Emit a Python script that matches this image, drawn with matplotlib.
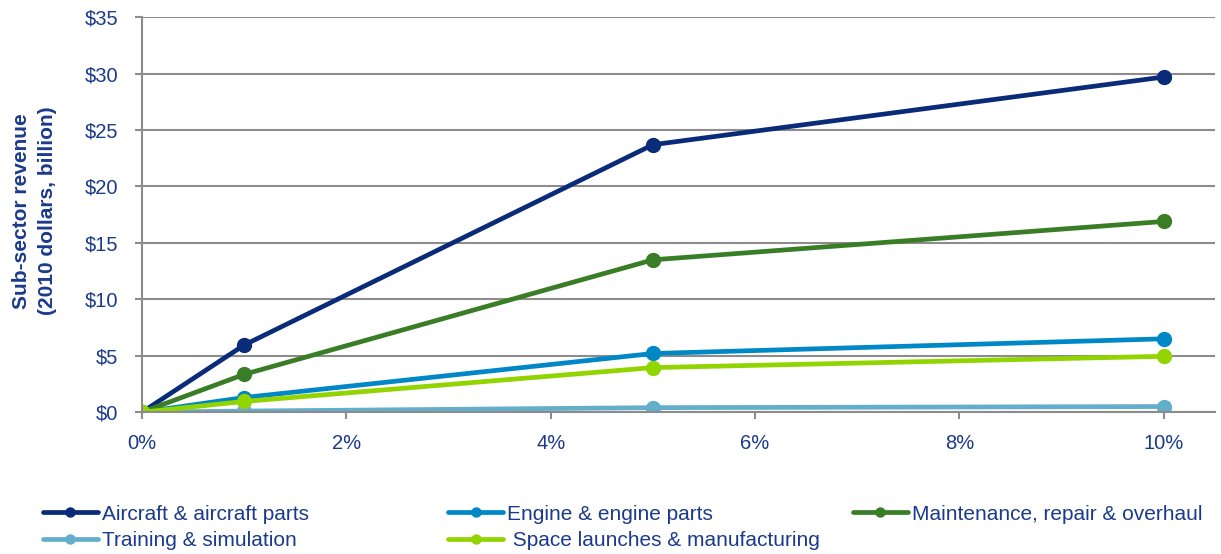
import matplotlib.pyplot as plt
from matplotlib.ticker import FuncFormatter

plt.rcParams['font.family'] = ['Liberation Sans', 'DejaVu Sans']

# growth scenario (%) and sub-sector revenue ($ billion, 2010 dollars)
growth = [0, 1, 5, 10]
aircraft = [0, 5.95, 23.7, 29.7]
engine = [0, 1.3, 5.2, 6.5]
mro = [0, 3.35, 13.5, 16.9]
training = [0, 0.1, 0.4, 0.5]
space = [0, 0.95, 3.95, 4.95]

names = ['Aircraft & aircraft parts', 'Engine & engine parts',
         'Maintenance, repair & overhaul', 'Training & simulation',
         ' Space launches & manufacturing']
colors = ['#0A2B78', '#0088C6', '#3A7D27', '#62AECB', '#92D400']
series = [aircraft, engine, mro, training, space]

txt = '#1B3A8C'
grid = '#8C8C8C'

fig = plt.figure(figsize=(12.21, 5.54), dpi=100)
ax = fig.add_axes([0.1163, 0.256, 0.8787, 0.713])

handles = []
for vals, c, n in zip(series, colors, names):
    h, = ax.plot(growth, vals, color=c, lw=3.4, marker='o',
                 markersize=10, label=n, solid_capstyle='round')
    handles.append(h)

ax.set_xlim(0, 10.5)
ax.set_ylim(0, 35)
ax.set_xticks([0, 2, 4, 6, 8, 10])
ax.set_yticks(range(0, 36, 5))
ax.xaxis.set_major_formatter(FuncFormatter(lambda v, p: f'{v:.0f}%'))
ax.yaxis.set_major_formatter(FuncFormatter(lambda v, p: f'${v:.0f}'))
ax.tick_params(axis='both', colors=grid, labelcolor=txt, labelsize=14.5,
               length=5, width=1.5, direction='out')
ax.tick_params(axis='x', pad=11)
ax.tick_params(axis='y', pad=12)
ax.grid(axis='y', color=grid, lw=1.5)
ax.set_axisbelow(True)
for s in ['top', 'right']:
    ax.spines[s].set_visible(False)
for s in ['left', 'bottom']:
    ax.spines[s].set_color(grid)
    ax.spines[s].set_linewidth(1.5)

ax.set_ylabel('Sub-sector revenue\n(2010 dollars, billion)', color=txt,
              fontsize=15, fontweight='bold', linespacing=1.45)
ax.yaxis.set_label_coords(-0.079, 0.51)

# legend laid out in three columns like the source
cols = [([0, 3], 0.0352), ([1, 4], 0.367), ([2], 0.6986)]
for idx, xpos in cols:
    leg = fig.legend([handles[i] for i in idx], [names[i] for i in idx],
                     loc='upper left', bbox_to_anchor=(xpos, 0.089),
                     frameon=False, fontsize=15, handlelength=2.64,
                     handletextpad=0.2, labelspacing=0.36, borderpad=0,
                     borderaxespad=0, markerscale=0.65)
    for t in leg.get_texts():
        t.set_color(txt)

fig.savefig('out.png', dpi=100)
